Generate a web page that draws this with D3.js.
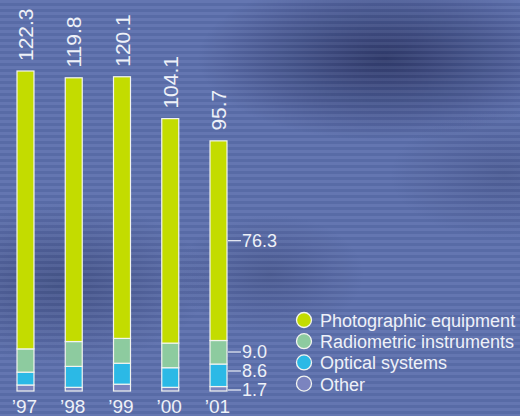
<!DOCTYPE html>
<html>
<head>
<meta charset="utf-8">
<script src="https://cdn.jsdelivr.net/npm/d3@7"></script>
<style>
    html, body { margin: 0; padding: 0; background: #5a6ca8; }
    svg { display: block; }
    text { font-family: "Liberation Sans", "DejaVu Sans", sans-serif; fill: #eef1f8; }
</style>
</head>
<body>
<div id="wrapper"></div>
<script>
// data
const years = ["’97", "’98", "’99", "’00", "’01"];
const totals = [122.3, 119.8, 120.1, 104.1, 95.7];
const photographic = [106.2, 100.8, 100.0, 85.8, 76.3];
const radiometric = [8.9, 9.5, 9.5, 9.4, 9.0];
const optical = [4.9, 8.0, 8.0, 7.5, 8.6];
const other = [2.3, 1.4, 2.6, 1.4, 1.7];
const seriesNames = ["Photographic equipment", "Radiometric instruments", "Optical systems", "Other"];
const seriesColors = ["#c3dc00", "#8dcb9f", "#2bb9e6", "#7b84bf"];

function build() {
    var dimension = {
        width: 520,
        height: 416,
        margin: { top: 71, right: 10, bottom: 25, left: 17 }
    };

    const svg = d3.select("#wrapper")
        .append("svg")
        .attr("width", dimension.width)
        .attr("height", dimension.height);

    // background: blue with dark clouds and horizontal scan stripes
    const defs = svg.append("defs");
    const blobs = [
        { id: "b1", cx: 0.74, cy: 0.14, r: 0.36, sy: 0.55, c: "#283160", o: 0.85 },
        { id: "b2", cx: 0.12, cy: 0.68, r: 0.28, sy: 0.7, c: "#34406e", o: 0.55 },
        { id: "b3", cx: 0.52, cy: 0.66, r: 0.18, sy: 0.8, c: "#34406e", o: 0.4 },
        { id: "b4", cx: 0.97, cy: 0.42, r: 0.22, sy: 0.7, c: "#34406e", o: 0.35 }
    ];
    blobs.forEach(b => {
        const g = defs.append("radialGradient").attr("id", b.id)
            .attr("cx", b.cx).attr("cy", b.cy).attr("r", b.r)
            .attr("gradientTransform", `translate(0,${b.cy * (1 - b.sy)}) scale(1,${b.sy})`);
        g.append("stop").attr("offset", 0).attr("stop-color", b.c).attr("stop-opacity", b.o);
        g.append("stop").attr("offset", 1).attr("stop-color", b.c).attr("stop-opacity", 0);
    });
    const stripes = defs.append("pattern").attr("id", "stripes")
        .attr("patternUnits", "userSpaceOnUse").attr("width", 10).attr("height", 6);
    stripes.append("rect").attr("width", 10).attr("height", 3).attr("fill", "#ffffff").attr("opacity", 0.05);
    stripes.append("rect").attr("y", 3).attr("width", 10).attr("height", 3).attr("fill", "#000000").attr("opacity", 0.04);

    svg.append("rect").attr("width", dimension.width).attr("height", dimension.height).attr("fill", "#5c6fad");
    blobs.forEach(b => {
        svg.append("rect").attr("width", dimension.width).attr("height", dimension.height)
            .attr("fill", `url(#${b.id})`);
    });
    svg.append("rect").attr("width", dimension.width).attr("height", dimension.height).attr("fill", "url(#stripes)");

    const baseline = dimension.height - dimension.margin.bottom;

    // 5 bars, 17px wide, 48.25px apart
    const x = d3.scaleBand()
        .domain(years)
        .range([dimension.margin.left, dimension.margin.left + 210])
        .paddingInner(0.648)
        .paddingOuter(0);

    const y = d3.scaleLinear()
        .domain([0, d3.max(totals)])
        .range([baseline, dimension.margin.top]);

    const table = years.map((yr, i) => ({
        year: yr,
        "Photographic equipment": photographic[i],
        "Radiometric instruments": radiometric[i],
        "Optical systems": optical[i],
        "Other": other[i]
    }));

    const stack = d3.stack().keys(seriesNames.slice().reverse());
    const layers = stack(table);
    const color = d3.scaleOrdinal().domain(seriesNames).range(seriesColors);

    const bars = svg.append("g");
    bars.selectAll("g")
        .data(layers)
        .enter()
        .append("g")
        .attr("fill", d => color(d.key))
        .selectAll("rect")
        .data(d => d)
        .enter()
        .append("rect")
        .attr("x", d => x(d.data.year))
        .attr("width", x.bandwidth())
        .attr("y", d => y(d[1]))
        .attr("height", d => y(d[0]) - y(d[1]))
        .attr("stroke", "#f2f4f0")
        .attr("stroke-width", 1.2);

    // totals, rotated above bars
    svg.append("g")
        .selectAll("text")
        .data(totals)
        .enter()
        .append("text")
        .attr("transform", (d, i) =>
            `translate(${x(years[i]) + x.bandwidth() / 2 + 7.5},${y(d) - 10}) rotate(-90)`)
        .style("font-size", "21px")
        .text(d => d.toFixed(1));

    // year labels
    svg.append("g")
        .selectAll("text")
        .data(years)
        .enter()
        .append("text")
        .attr("x", d => x(d) + x.bandwidth() / 2 - 1)
        .attr("y", baseline + 22)
        .attr("text-anchor", "middle")
        .style("font-size", "19px")
        .text(d => d);

    // callouts on the last bar, pushed apart so they don't collide
    const last = years.length - 1;
    const lastStack = layers.map(l => ({
        key: l.key,
        value: l[last][1] - l[last][0],
        ly: y((l[last][0] + l[last][1]) / 2)
    }));
    let prev = null;
    lastStack.forEach((d, i) => {
        if (i === 0) d.ly = Math.min(d.ly + 1.5, baseline - 1);
        else d.ly = Math.min(d.ly, prev - 19);
        prev = d.ly;
    });
    const xr = x(years[last]) + x.bandwidth();
    const callouts = svg.append("g")
        .selectAll("g")
        .data(lastStack)
        .enter()
        .append("g")
        .attr("transform", d => `translate(${xr},${d.ly})`);
    callouts.append("line")
        .attr("x1", 1).attr("x2", 14)
        .attr("stroke", "#eef1f8").attr("stroke-width", 1.2);
    callouts.append("text")
        .attr("x", 15)
        .attr("dy", "0.36em")
        .style("font-size", "18px")
        .text(d => d.value.toFixed(1));

    // legend
    const legend = svg.append("g")
        .attr("transform", "translate(304,320)")
        .selectAll("g")
        .data(seriesNames)
        .enter()
        .append("g")
        .attr("transform", (d, i) => `translate(0,${i * 21.2})`);
    legend.append("circle")
        .attr("r", 7.5)
        .attr("fill", d => color(d))
        .attr("stroke", "#f2f4f0")
        .attr("stroke-width", 1.3);
    legend.append("text")
        .attr("x", 16)
        .attr("y", 7)
        .style("font-size", "18px")
        .text(d => d);
}
build();
</script>
</body>
</html>
